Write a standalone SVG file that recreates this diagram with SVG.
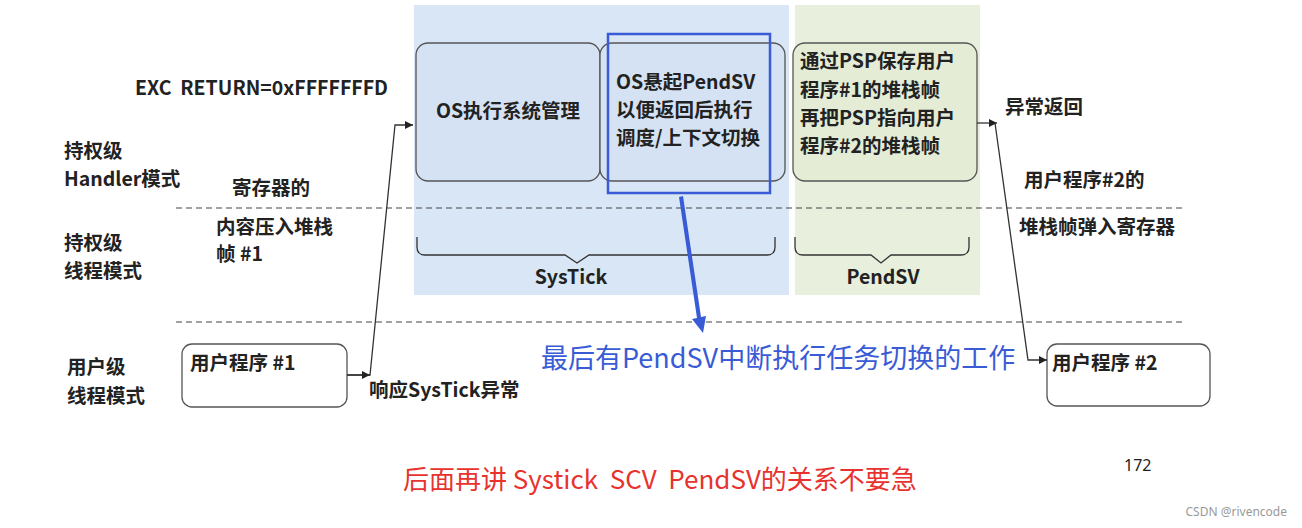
<svg xmlns="http://www.w3.org/2000/svg" width="1302" height="528" viewBox="0 0 1302 528">
<style>
.t{font-family:"Noto Sans CJK SC","Noto Sans",sans-serif;font-weight:bold;font-size:19.5px;fill:#222;white-space:pre}
.box{stroke:#555;stroke-width:1.3}
.dash{stroke:#444;stroke-width:1.2;stroke-dasharray:6 4;fill:none}
.ln{stroke:#333;stroke-width:1.3;fill:none}
</style>
<defs>
<marker id="ah" viewBox="0 0 10 10" refX="10" refY="5" markerWidth="8" markerHeight="8" orient="auto" markerUnits="userSpaceOnUse"><path d="M0,0L10,5L0,10z" fill="#222"/></marker>
</defs>
<rect width="1302" height="528" fill="#fff"/>
<rect x="414" y="5" width="375" height="290" fill="#d9e6f5"/>
<rect x="795" y="5" width="185" height="290" fill="#e8efdc"/>
<path class="dash" d="M176,208H1185M176,322H1185"/>
<g id="n1"><rect class="box" x="416" y="43" width="184" height="138" rx="12" fill="#d4e2f3"/><text class="t" x="508" y="118" text-anchor="middle">OS执行系统管理</text></g>
<g id="n2"><rect class="box" x="600" y="43" width="185" height="138" rx="12" fill="#d4e2f3"/><text class="t" x="616" y="89">OS悬起PendSV</text><text class="t" x="616" y="117">以便返回后执行</text><text class="t" x="616" y="145">调度/上下文切换</text></g>
<rect x="608" y="34" width="162" height="159" fill="none" stroke="#3a5bd6" stroke-width="2.5"/>
<g id="n3"><rect class="box" x="793" y="43" width="184" height="138" rx="12" fill="#e4ecd6"/><text class="t" x="800" y="68">通过PSP保存用户</text><text class="t" x="800" y="97">程序#1的堆栈帧</text><text class="t" x="800" y="125">再把PSP指向用户</text><text class="t" x="800" y="153">程序#2的堆栈帧</text></g>
<g id="u1"><rect class="box" x="182" y="344" width="165" height="63" rx="10" fill="#fff"/><text class="t" x="190" y="370">用户程序 #1</text></g>
<g id="u2"><rect class="box" x="1047" y="344" width="163" height="62" rx="10" fill="#fff"/><text class="t" x="1052" y="370">用户程序 #2</text></g>
<g id="braces">
<path class="ln" d="M417,237v10q0,8 8,8h140l12,8l12,-8h178q8,0 8,-8v-10" stroke="#666"/>
<path class="ln" d="M795,237v10q0,8 8,8h68l10,8l10,-8h70q8,0 8,-8v-10" stroke="#666"/>
</g>
<g id="connectors">
<path class="ln" d="M347,375H370L395,125H413" marker-end="url(#ah)"/>
<path class="ln" d="M347,375H370" marker-end="url(#ah)"/>
<path class="ln" d="M977,123H997" marker-end="url(#ah)"/>
<path class="ln" d="M995,123L1028,360H1047" marker-end="url(#ah)"/>
<path d="M679,197L697,318L692,319L703,333L706,316L701,317L683,196z" fill="#3a5bd6"/>
</g>
<g id="labels">
<text class="t" x="135" y="95">EXC  RETURN=0xFFFFFFFD</text>
<text class="t" x="64" y="158">持权级</text>
<text class="t" x="64" y="186">Handler模式</text>
<text class="t" x="232" y="195">寄存器的</text>
<text class="t" x="216" y="234">内容压入堆栈</text>
<text class="t" x="216" y="261">帧 #1</text>
<text class="t" x="64" y="250">持权级</text>
<text class="t" x="64" y="278">线程模式</text>
<text class="t" x="67" y="374">用户级</text>
<text class="t" x="67" y="403">线程模式</text>
<text class="t" x="369" y="397">响应SysTick异常</text>
<text class="t" x="571" y="284" text-anchor="middle">SysTick</text>
<text class="t" x="883" y="284" text-anchor="middle">PendSV</text>
<text class="t" x="1005" y="114">异常返回</text>
<text class="t" x="1024" y="187">用户程序#2的</text>
<text class="t" x="1019" y="234">堆栈帧弹入寄存器</text>
<text x="541" y="368" style="font-family:'Noto Sans CJK SC',sans-serif;font-size:27px;fill:#3a5bd6">最后有PendSV中断执行任务切换的工作</text>
<text x="1124" y="471" style="font-family:'Noto Sans',sans-serif;font-size:16px;fill:#222">172</text>
<text x="403" y="489" style="font-family:'Noto Sans CJK SC',sans-serif;font-size:26px;fill:#e8322e;white-space:pre">后面再讲 Systick  SCV  PendSV的关系不要急</text>
<text x="1287" y="516" text-anchor="end" style="font-family:'Noto Sans',sans-serif;font-size:12px;fill:#999">CSDN @rivencode</text>
</g>
</svg>
